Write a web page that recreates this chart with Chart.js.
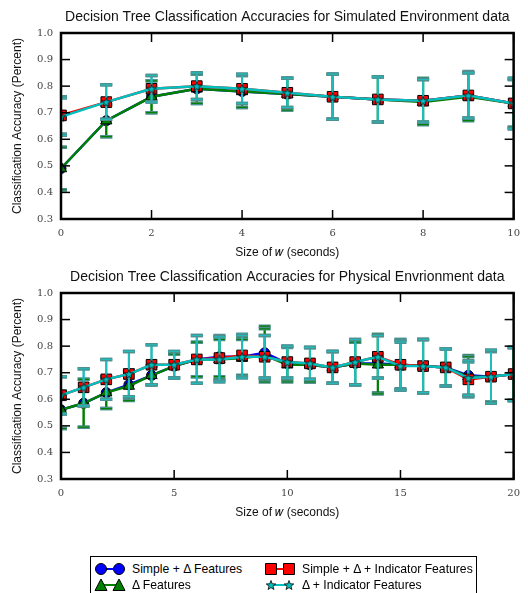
<!DOCTYPE html>
<html lang="en">
<head>
<meta charset="UTF-8">
<title>Decision Tree Classification Accuracies</title>
<script src="https://cdn.jsdelivr.net/npm/chart.js"></script>
<style>
  body { margin: 0; background: #fff; font-family: "Liberation Sans", Arial, sans-serif; }
  .wrap { position: relative; width: 528px; height: 593px; overflow: hidden; }
  canvas.plot { position: absolute; left: 0; }
  #legend { position: absolute; left: 90px; top: 556px; width: 387px; height: 44px; border: 1.5px solid #000; box-sizing: border-box; font-size: 12.2px; color: #000; }
  .item { position: absolute; display: flex; align-items: center; height: 14px; }
  .item canvas { margin-right: 6px; }
</style>
</head>
<body>
<div class="wrap">
  <canvas id="simChart" class="plot" width="528" height="262" style="top:0"></canvas>
  <canvas id="physChart" class="plot" width="528" height="262" style="top:260px"></canvas>
  <div id="legend"></div>
</div>

<script>
  // window size w (seconds)
  const wSim = [0, 1, 2, 3, 4, 5, 6, 7, 8, 9, 10];
  const wPhys = [0, 1, 2, 3, 4, 5, 6, 7, 8, 9, 10, 11, 12, 13, 14, 15, 16, 17, 18, 19, 20];

  // simulated environment
  const simpleDeltaSim    = [0.49, 0.67, 0.76, 0.79, 0.78, 0.77, 0.76, 0.75, 0.745, 0.765, 0.735];
  const deltaSim          = [0.49, 0.67, 0.76, 0.79, 0.78, 0.77, 0.76, 0.75, 0.74, 0.76, 0.735];
  const simpleDeltaIndSim = [0.69, 0.74, 0.79, 0.80, 0.79, 0.775, 0.76, 0.75, 0.745, 0.765, 0.735];
  const deltaIndSim       = [0.685, 0.74, 0.79, 0.80, 0.79, 0.775, 0.76, 0.75, 0.745, 0.765, 0.735];
  const simpleDeltaErrSim    = [0.08, 0.06, 0.06, 0.055, 0.06, 0.06, 0.085, 0.085, 0.085, 0.09, 0.09];
  const deltaErrSim          = [0.08, 0.06, 0.06, 0.055, 0.06, 0.06, 0.085, 0.085, 0.085, 0.09, 0.09];
  const simpleDeltaIndErrSim = [0.07, 0.065, 0.05, 0.05, 0.055, 0.055, 0.085, 0.085, 0.08, 0.085, 0.095];
  const deltaIndErrSim       = [0.07, 0.065, 0.05, 0.05, 0.055, 0.055, 0.085, 0.085, 0.08, 0.085, 0.095];

  // physical environment
  const simpleDeltaPhys    = [0.56, 0.585, 0.625, 0.655, 0.69, 0.725, 0.75, 0.76, 0.76, 0.775, 0.735, 0.73, 0.72, 0.735, 0.735, 0.73, 0.725, 0.72, 0.69, 0.685, 0.695];
  const deltaPhys          = [0.56, 0.585, 0.625, 0.65, 0.69, 0.725, 0.75, 0.75, 0.755, 0.765, 0.73, 0.73, 0.72, 0.735, 0.73, 0.73, 0.725, 0.72, 0.685, 0.685, 0.695];
  const simpleDeltaIndPhys = [0.615, 0.645, 0.675, 0.695, 0.73, 0.73, 0.75, 0.755, 0.765, 0.76, 0.74, 0.735, 0.72, 0.74, 0.76, 0.73, 0.725, 0.72, 0.675, 0.685, 0.695];
  const deltaIndPhys       = [0.615, 0.645, 0.675, 0.695, 0.73, 0.73, 0.75, 0.75, 0.76, 0.76, 0.74, 0.735, 0.72, 0.74, 0.76, 0.725, 0.725, 0.72, 0.68, 0.685, 0.695];
  const simpleDeltaErrPhys    = [0.07, 0.09, 0.06, 0.055, 0.035, 0.045, 0.065, 0.075, 0.07, 0.1, 0.065, 0.065, 0.06, 0.08, 0.11, 0.095, 0.1, 0.07, 0.075, 0.095, 0.1];
  const deltaErrPhys          = [0.07, 0.09, 0.06, 0.055, 0.035, 0.045, 0.065, 0.075, 0.07, 0.1, 0.065, 0.065, 0.06, 0.08, 0.11, 0.095, 0.1, 0.07, 0.075, 0.095, 0.1];
  const simpleDeltaIndErrPhys = [0.07, 0.07, 0.075, 0.085, 0.075, 0.05, 0.09, 0.085, 0.08, 0.08, 0.06, 0.06, 0.06, 0.085, 0.08, 0.09, 0.1, 0.07, 0.065, 0.1, 0.1];
  const deltaIndErrPhys       = [0.07, 0.07, 0.075, 0.085, 0.075, 0.05, 0.09, 0.085, 0.08, 0.08, 0.06, 0.06, 0.06, 0.085, 0.08, 0.09, 0.1, 0.07, 0.065, 0.1, 0.1];

  const xTicksSim = [0, 2, 4, 6, 8, 10];
  const xTicksPhys = [0, 5, 10, 15, 20];
  const yTicks = [0.3, 0.4, 0.5, 0.6, 0.7, 0.8, 0.9, 1.0];

  const seriesNames = ['Simple + \u0394 Features', '\u0394 Features', 'Simple + \u0394 + Indicator Features', '\u0394 + Indicator Features'];

  function starImage(r, fill) {
    const c = document.createElement('canvas');
    const s = Math.ceil(r * 2 + 2);
    c.width = c.height = s;
    const g = c.getContext('2d');
    g.beginPath();
    for (let k = 0; k < 10; k++) {
      const rr = k % 2 ? r * 0.42 : r;
      const a = -Math.PI / 2 + k * Math.PI / 5;
      g.lineTo(s / 2 + rr * Math.cos(a), s / 2 + 0.5 + rr * Math.sin(a));
    }
    g.closePath();
    g.fillStyle = fill; g.fill();
    g.strokeStyle = '#000'; g.lineWidth = 0.8; g.stroke();
    return c;
  }
  const star = starImage(5, '#00bfbf');

  const styles = [
    { color: '#0000ff', errColor: '#008000', pointStyle: 'circle', pointRadius: 5, order: 4 },
    { color: '#008000', errColor: '#008000', pointStyle: 'triangle', pointRadius: 6.5, order: 3 },
    { color: '#ff0000', errColor: '#20bcbc', pointStyle: 'rect', pointRadius: 7.5, order: 2 },
    { color: '#00bfbf', errColor: '#20bcbc', pointStyle: star, pointRadius: 5, order: 1 }
  ];

  // error bars drawn just before each series, like matplotlib's errorbar()
  const errorBars = {
    id: 'errorBars',
    beforeDatasetDraw(chart, args) {
      const ds = chart.data.datasets[args.index];
      if (!ds.errors) return;
      const { ctx, chartArea: a, scales: { x, y } } = chart;
      ctx.save();
      ctx.beginPath();
      ctx.rect(a.left, a.top, a.width, a.height);
      ctx.clip();
      ds.data.forEach((p, i) => {
        const px = x.getPixelForValue(p.x);
        const lo = y.getPixelForValue(p.y - ds.errors[i]);
        const hi = y.getPixelForValue(p.y + ds.errors[i]);
        ctx.strokeStyle = ds.errColor;
        ctx.lineWidth = 2;
        ctx.beginPath(); ctx.moveTo(px, lo); ctx.lineTo(px, hi); ctx.stroke();
        [lo, hi].forEach(cy => {
          ctx.strokeStyle = '#4f8f8f'; ctx.lineWidth = 3.5;
          ctx.beginPath(); ctx.moveTo(px - 6, cy); ctx.lineTo(px + 6, cy); ctx.stroke();
          ctx.strokeStyle = ds.errColor; ctx.lineWidth = 1.2;
          ctx.beginPath(); ctx.moveTo(px - 5.5, cy); ctx.lineTo(px + 5.5, cy); ctx.stroke();
        });
      });
      ctx.restore();
    }
  };

  // box frame, inward ticks on all four sides, title centred on the plot area
  const frame = {
    id: 'frame',
    afterDraw(chart, args, opts) {
      const { ctx, chartArea: a, scales: { x, y } } = chart;
      ctx.save();
      ctx.strokeStyle = '#000';
      ctx.lineWidth = 1.5;
      const seg = (x0, y0, x1, y1) => { ctx.beginPath(); ctx.moveTo(x0, y0); ctx.lineTo(x1, y1); ctx.stroke(); };
      x.ticks.forEach(t => {
        const px = x.getPixelForValue(t.value);
        seg(px, a.bottom, px, a.bottom - 9);
        seg(px, a.top, px, a.top + 9);
      });
      y.ticks.forEach(t => {
        const py = y.getPixelForValue(t.value);
        seg(a.left, py, a.left + 9, py);
        seg(a.right, py, a.right - 9, py);
      });
      ctx.lineWidth = 2.5;
      ctx.strokeRect(a.left, a.top, a.width, a.height);
      ctx.fillStyle = '#111';
      ctx.font = '14px "Liberation Sans", Arial, sans-serif';
      ctx.textAlign = 'center';
      ctx.textBaseline = 'middle';
      ctx.fillText(opts.text, (a.left + a.right) / 2, 17);
      ctx.restore();
    }
  };

  const tickFont = { family: '"DejaVu Serif", serif', size: 10 };
  const labelFont = { family: '"Liberation Sans", Arial, sans-serif', size: 12 };

  function makeChart(id, title, xs, xTicks, xMax, values, errors) {
    const datasets = values.map((vals, k) => ({
      label: seriesNames[k],
      data: xs.map((w, i) => ({ x: w, y: vals[i] })),
      errors: errors[k],
      errColor: styles[k].errColor,
      borderColor: styles[k].color,
      backgroundColor: styles[k].color,
      borderWidth: 2.5,
      pointStyle: styles[k].pointStyle,
      pointRadius: styles[k].pointRadius,
      pointBorderColor: '#000',
      pointBackgroundColor: styles[k].color,
      pointBorderWidth: 1,
      order: styles[k].order,
      clip: 0
    }));

    return new Chart(document.getElementById(id), {
      type: 'line',
      data: { datasets: datasets },
      options: {
        responsive: false,
        animation: false,
        layout: { padding: { top: 33, right: 10, left: 0, bottom: 0 } },
        plugins: {
          legend: { display: false },
          tooltip: { enabled: false },
          frame: { text: title }
        },
        scales: {
          x: {
            type: 'linear', min: 0, max: xMax,
            grid: { display: false, drawTicks: false },
            border: { display: false },
            afterBuildTicks: s => { s.ticks = xTicks.map(v => ({ value: v })); },
            afterFit: s => { s.height = 43; },
            ticks: { font: tickFont, color: '#444', padding: 8, maxRotation: 0, callback: v => v },
            title: { display: true, text: 'Size of \uD835\uDC64 (seconds)', font: labelFont, color: '#111', padding: { top: 0, bottom: 2 } }
          },
          y: {
            min: 0.3, max: 1.0,
            grid: { display: false, drawTicks: false },
            border: { display: false },
            afterBuildTicks: s => { s.ticks = yTicks.map(v => ({ value: v })); },
            afterFit: s => { s.width = 61; },
            ticks: { font: tickFont, color: '#444', padding: 8, callback: v => v.toFixed(1) },
            title: { display: true, text: 'Classification Accuracy (Percent)', font: labelFont, color: '#111', padding: { top: 10, bottom: 0 } }
          }
        }
      },
      plugins: [errorBars, frame]
    });
  }

  makeChart('simChart', 'Decision Tree Classification Accuracies for Simulated Environment data', wSim, xTicksSim, 10,
    [simpleDeltaSim, deltaSim, simpleDeltaIndSim, deltaIndSim],
    [simpleDeltaErrSim, deltaErrSim, simpleDeltaIndErrSim, deltaIndErrSim]);

  makeChart('physChart', 'Decision Tree Classification Accuracies for Physical Envrionment data', wPhys, xTicksPhys, 20,
    [simpleDeltaPhys, deltaPhys, simpleDeltaIndPhys, deltaIndPhys],
    [simpleDeltaErrPhys, deltaErrPhys, simpleDeltaIndErrPhys, deltaIndErrPhys]);

  // legend: two columns, line with a marker at each end
  const legendSlots = [
    { k: 0, left: 3, top: 5 },
    { k: 2, left: 173, top: 5 },
    { k: 1, left: 3, top: 21 },
    { k: 3, left: 173, top: 21 }
  ];
  const legend = document.getElementById('legend');
  legendSlots.forEach(slot => {
    const st = styles[slot.k];
    const item = document.createElement('div');
    item.className = 'item';
    item.style.left = slot.left + 'px';
    item.style.top = slot.top + 'px';
    const c = document.createElement('canvas');
    c.width = 32; c.height = 14;
    const g = c.getContext('2d');
    g.strokeStyle = st.color; g.lineWidth = 2;
    g.beginPath(); g.moveTo(7, 7); g.lineTo(25, 7); g.stroke();
    [7, 25].forEach(cx => {
      g.fillStyle = st.color; g.strokeStyle = '#000'; g.lineWidth = 1;
      g.beginPath();
      if (st.pointStyle === 'circle') {
        g.arc(cx, 7, 5.5, 0, Math.PI * 2);
      } else if (st.pointStyle === 'triangle') {
        g.moveTo(cx, 1); g.lineTo(cx + 6, 12.5); g.lineTo(cx - 6, 12.5); g.closePath();
      } else if (st.pointStyle === 'rect') {
        g.rect(cx - 5.5, 1.5, 11, 11);
      }
      g.fill(); g.stroke();
      if (typeof st.pointStyle !== 'string') g.drawImage(st.pointStyle, cx - st.pointStyle.width / 2, 7 - st.pointStyle.height / 2);
    });
    const span = document.createElement('span');
    span.textContent = seriesNames[slot.k];
    item.appendChild(c);
    item.appendChild(span);
    legend.appendChild(item);
  });
</script>
</body>
</html>
